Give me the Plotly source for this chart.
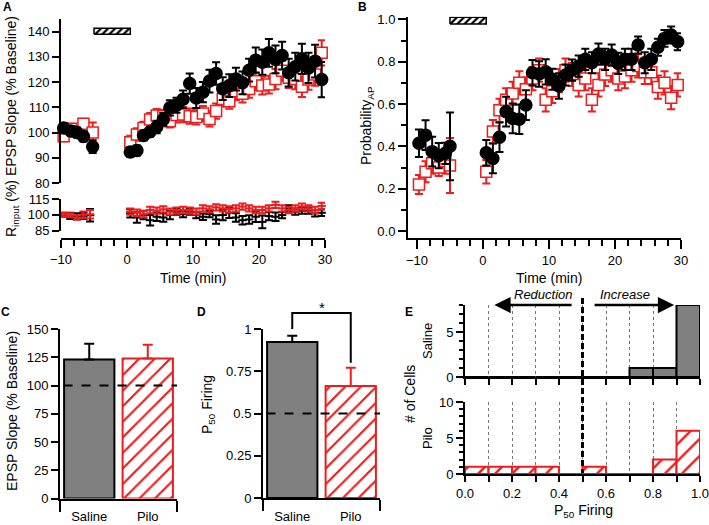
import plotly.graph_objects as go

W, H = 709, 525
FONT = "Arial, 'Liberation Sans', sans-serif"
BLACK = "black"
RED = "#ee1c1c"
GREY = "#808080"

# ---------------- data ----------------
# Panel A: EPSP slope (% baseline) and input resistance (%), time in min
a_base_time = [-9.6, -8.5, -7.6, -6.6, -5.2]
post_time = [0.5, 1.5, 2.5, 3.5, 4.5, 5.5, 6.5, 7.5, 8.5, 9.5,
             10.5, 11.5, 12.5, 13.5, 14.5, 15.5, 16.5, 17.5, 18.5, 19.5,
             20.5, 21.5, 22.5, 23.5, 24.5, 25.5, 26.5, 27.5, 28.5, 29.5]
epsp_sal_base = [101.8, 100.6, 100.0, 98.4, 94.4]
epsp_sal_base_err = [2, 2, 2, 2, 2.5]
epsp_pilo_base = [98.5, 101.5, 100.5, 103.5, 100.0]
epsp_pilo_base_err = [2, 2, 2, 2, 4]
epsp_sal_post = [92.3, 92.9, 98.8, 100.3, 102.2, 105.2, 109.8, 110.8, 113.2, 119.4,
                 113.7, 116.0, 120.4, 123.4, 117.4, 118.6, 121.2, 119.7, 124.7, 128.7,
                 127.9, 131.6, 129.0, 130.5, 123.7, 126.1, 129.2, 125.6, 128.3, 121.0]
epsp_sal_post_err = [2, 2, 2, 2, 2.5, 2.5, 3, 3, 3.5, 4, 4, 4, 4.5, 4.5, 4.5,
                     4.5, 4.5, 4.5, 4.5, 5, 5, 5.5, 5.5, 5.5, 5.5, 5.5, 6, 6, 6.5, 7]
epsp_pilo_post = [96.2, 99.2, 101.8, 105.2, 106.8, 106.5, 104.5, 107.0, 107.1, 106.5,
                  106.2, 107.5, 105.4, 108.5, 113.3, 112.4, 116.4, 115.4, 117.3, 120.3,
                  118.6, 119.0, 121.2, 124.5, 121.7, 121.2, 118.1, 121.0, 123.0, 131.6]
epsp_pilo_post_err = [2.5, 2.5, 2.5, 2.5, 2.5, 2.5, 2.5, 3, 3, 3, 3, 3, 3, 3, 3,
                      3, 3.5, 3.5, 3.5, 3.5, 3.5, 3.5, 4, 4, 4, 4, 4, 4, 4.5, 5]

rin_base_time = [-9.7, -8.6, -7.6, -6.6, -5.6]
rin_sal_base = [100.0, 99.0, 98.5, 99.0, 99.5]
rin_sal_base_err = [2, 3, 3, 3, 6]
rin_pilo_base = [100.0, 99.5, 97.5, 100.0, 100.5]
rin_pilo_base_err = [2, 2, 2, 3, 4]
rin_sal_post = [101.3, 97.4, 99.7, 94.8, 98.1, 97.4, 99.7, 102.9, 100.6, 102.9,
                99.7, 98.1, 100.6, 95.5, 99.7, 101.9, 97.4, 94.8, 95.5, 98.1,
                93.2, 98.7, 98.1, 99.7, 106.1, 102.9, 103.9, 103.9, 101.3, 101.9]
rin_sal_post_err = [4, 5, 4, 5, 4, 4, 4, 3, 3, 3, 3, 3, 3, 4, 5,
                    5, 4, 4, 4, 5, 6, 4, 4, 3, 3, 3, 3, 3, 3, 3]
rin_pilo_post = [102.9, 101.9, 100.6, 104.5, 103.9, 105.2, 102.9, 103.9, 104.5, 103.9,
                 102.9, 106.1, 105.2, 107.1, 106.1, 105.2, 106.1, 107.8, 106.1, 104.5,
                 104.5, 106.1, 109.4, 106.1, 104.5, 106.1, 107.8, 106.1, 104.5, 108.4]
rin_pilo_post_err = [3] * 30

# Panel B: probability of AP
b_base_time = [-9.7, -8.7, -7.7, -6.7, -5.7, -5.0]
pap_sal_base = [0.415, 0.453, 0.375, 0.356, 0.367, 0.40]
pap_sal_base_err = [0.065, 0.07, 0.07, 0.06, 0.05, 0.16]
pap_pilo_base = [0.22, 0.28, 0.32, 0.30, 0.33, 0.31]
pap_pilo_base_err = [0.045, 0.05, 0.05, 0.04, 0.06, 0.13]
pap_sal_post = [0.37, 0.343, 0.443, 0.564, 0.532, 0.528, 0.595, 0.748, 0.742, 0.752,
                0.717, 0.685, 0.737, 0.760, 0.779, 0.811, 0.795, 0.836, 0.811, 0.831,
                0.792, 0.811, 0.811, 0.879, 0.795, 0.811, 0.868, 0.91, 0.926, 0.894]
pap_sal_post_err = [0.06, 0.07, 0.07, 0.07, 0.07, 0.07, 0.07, 0.06, 0.06, 0.06,
                    0.05, 0.06, 0.05, 0.05, 0.05, 0.05, 0.05, 0.05, 0.05, 0.05,
                    0.05, 0.05, 0.05, 0.04, 0.05, 0.05, 0.04, 0.04, 0.04, 0.04]
pap_pilo_post = [0.28, 0.47, 0.57, 0.62, 0.65, 0.70, 0.67, 0.72, 0.76, 0.62,
                 0.66, 0.71, 0.76, 0.74, 0.69, 0.72, 0.62, 0.69, 0.74, 0.76,
                 0.72, 0.73, 0.76, 0.78, 0.75, 0.75, 0.68, 0.70, 0.63, 0.69]
pap_pilo_post_err = [0.055] * 30

drug_window = [-5.0, 0.5]          # hatched application bar (min)
drug_bar_a = [139.0, 141.3]        # vertical extent in panel A units
drug_bar_b = [0.978, 1.01]         # vertical extent in panel B units

# Panels C, D
groups = ["Saline", "Pilo"]
epsp_summary = [123.0, 124.0]
epsp_summary_err = [14.0, 12.0]
p50_summary = [0.923, 0.663]
p50_summary_err = [0.037, 0.107]

# Panel E: histogram of P50 firing
bin_centers = [0.05, 0.15, 0.25, 0.35, 0.45, 0.55, 0.65, 0.75, 0.85, 0.95]
hist_saline = [0, 0, 0, 0, 0, 0, 0, 1, 1, 8]
hist_pilo = [1, 1, 1, 1, 0, 1, 0, 0, 2, 6]

# ---------------- helpers ----------------
def xdom(a, b):
    return [a / W, b / W]

def ydom(top, bottom):
    return [1 - bottom / H, 1 - top / H]

def px(x):
    return x / W

def py(y):
    return 1 - y / H

fig = go.Figure()

def points(x, y, e, color, symbol, fill, xa, ya, size=11, lw=1.5):
    fig.add_trace(go.Scatter(
        x=x, y=y, mode="markers", xaxis=xa, yaxis=ya, showlegend=False,
        marker=dict(symbol=symbol, size=size, color=fill, line=dict(color=color, width=lw)),
        error_y=dict(type="data", array=e, color=color, thickness=2, width=4),
        cliponaxis=False))

# Panel A
points(a_base_time + post_time, epsp_pilo_base + epsp_pilo_post,
       epsp_pilo_base_err + epsp_pilo_post_err, RED, "square", "white", "x", "y", 11)
points(a_base_time + post_time, epsp_sal_base + epsp_sal_post,
       epsp_sal_base_err + epsp_sal_post_err, BLACK, "circle", BLACK, "x", "y", 12)
points(rin_base_time + post_time, rin_sal_base + rin_sal_post,
       rin_sal_base_err + rin_sal_post_err, BLACK, "line-ew", BLACK, "x2", "y2", 6, 2)
points(rin_base_time + post_time, rin_pilo_base + rin_pilo_post,
       rin_pilo_base_err + rin_pilo_post_err, RED, "line-ew", RED, "x2", "y2", 6, 2)

def drug_bar(xa, ya, yext):
    x0, x1 = drug_window
    y0, y1 = yext
    fig.add_trace(go.Scatter(
        x=[x0, x1, x1, x0, x0], y=[y0, y0, y1, y1, y0], xaxis=xa, yaxis=ya,
        mode="lines", fill="toself", line=dict(color=BLACK, width=1.5),
        fillcolor="white", fillpattern=dict(shape="/", fgcolor=BLACK, bgcolor="white", size=5, solidity=0.45),
        showlegend=False, hoverinfo="skip"))

drug_bar("x", "y", drug_bar_a)

# Panel B
points(b_base_time + post_time, pap_pilo_base + pap_pilo_post,
       pap_pilo_base_err + pap_pilo_post_err, RED, "square", "white", "x3", "y3", 11)
points(b_base_time + post_time, pap_sal_base + pap_sal_post,
       pap_sal_base_err + pap_sal_post_err, BLACK, "circle", BLACK, "x3", "y3", 12)
drug_bar("x3", "y3", drug_bar_b)

# Panels C & D
def summary_bars(vals, errs, xa, ya):
    fig.add_trace(go.Bar(
        x=[0], y=[vals[0]], width=0.86, xaxis=xa, yaxis=ya, showlegend=False,
        marker=dict(color=GREY, line=dict(color=BLACK, width=2)),
        error_y=dict(type="data", array=[errs[0]], arrayminus=[0], symmetric=False,
                     color=BLACK, thickness=2, width=5)))
    fig.add_trace(go.Bar(
        x=[1], y=[vals[1]], width=0.86, xaxis=xa, yaxis=ya, showlegend=False,
        marker=dict(color="white", line=dict(color=RED, width=2),
                    pattern=dict(shape="/", fgcolor=RED, bgcolor="white", size=11, solidity=0.2)),
        error_y=dict(type="data", array=[errs[1]], arrayminus=[0], symmetric=False,
                     color=RED, thickness=2, width=5)))

summary_bars(epsp_summary, epsp_summary_err, "x4", "y4")
summary_bars(p50_summary, p50_summary_err, "x5", "y5")

# Panel E
fig.add_trace(go.Bar(x=bin_centers, y=hist_saline, width=0.1, xaxis="x6", yaxis="y6",
                     showlegend=False, marker=dict(color=GREY, line=dict(color=BLACK, width=2))))
fig.add_trace(go.Bar(x=bin_centers, y=hist_pilo, width=0.1, xaxis="x7", yaxis="y7",
                     showlegend=False,
                     marker=dict(color="white", line=dict(color=RED, width=2),
                                 pattern=dict(shape="/", fgcolor=RED, bgcolor="white", size=12, solidity=0.2))))

# ---------------- axes ----------------
TF = dict(family=FONT, size=13, color=BLACK)

def ax(**kw):
    d = dict(showline=True, linecolor=BLACK, linewidth=2, ticks="outside", tickwidth=2,
             tickcolor=BLACK, ticklen=7, zeroline=False, showgrid=False, tickfont=TF,
             fixedrange=True, mirror=False, automargin=False, ticklabeloverflow="allow")
    d.update(kw)
    return d

def minor(dtick, tick0=0, ticklen=5, **kw):
    d = dict(tickmode="linear", tick0=tick0, dtick=dtick, ticks="outside", ticklen=ticklen,
             tickwidth=2, tickcolor=BLACK)
    d.update(kw)
    return d

A_X = (61, 325)
B_X = (408, 681)
E_X = (465, 700)

layout_axes = dict(
    xaxis=ax(domain=xdom(*A_X), range=[-10, 30], visible=False, anchor="y"),
    yaxis=ax(domain=ydom(19, 183), range=[80, 145], tickvals=[80, 90, 100, 110, 120, 130, 140], anchor="x"),
    xaxis2=ax(domain=xdom(*A_X), range=[-10, 30], anchor="free", position=py(239),
              tickvals=[-10, 0, 10, 20, 30], ticklen=8, minor=minor(2, ticklen=6)),
    yaxis2=ax(domain=ydom(199, 230.5), range=[85, 115], tickvals=[85, 100, 115], anchor="x2"),
    xaxis3=ax(domain=xdom(*B_X), range=[-11.36, 30], anchor="y3",
              tickvals=[-10, 0, 10, 20, 30], ticklen=9, minor=minor(2, ticklen=6)),
    yaxis3=ax(domain=ydom(16.8, 238), range=[-0.033, 1.012], anchor="x3",
              tickvals=[0, 0.2, 0.4, 0.6, 0.8, 1.0], tickformat=".1f", ticklen=8,
              minor=minor(0.1, ticklen=5)),
    xaxis4=ax(domain=xdom(60, 177), range=[-0.5, 1.5], anchor="y4",
              tickvals=[0, 1], ticktext=groups, tickcolor="rgba(0,0,0,0)", ticklen=5,
              minor=dict(tickmode="array", tickvals=[-0.5, 1.5], ticks="outside", ticklen=11,
                         tickwidth=2, tickcolor=BLACK)),
    yaxis4=ax(domain=ydom(329, 498.5), range=[0, 150], anchor="x4",
              tickvals=[0, 25, 50, 75, 100, 125, 150]),
    xaxis5=ax(domain=xdom(263, 380), range=[-0.5, 1.5], anchor="y5",
              tickvals=[0, 1], ticktext=groups, tickcolor="rgba(0,0,0,0)", ticklen=5,
              minor=dict(tickmode="array", tickvals=[-0.5, 1.5], ticks="outside", ticklen=11,
                         tickwidth=2, tickcolor=BLACK)),
    yaxis5=ax(domain=ydom(329, 498), range=[0, 1], anchor="x5",
              tickvals=[0, 0.25, 0.5, 0.75, 1], ticktext=["0", "0.25", "0.5", "0.75", "1"]),
    xaxis6=ax(domain=xdom(*E_X), range=[0, 1], anchor="y6", tickvals=[0, 0.2, 0.4, 0.6, 0.8, 1.0],
              showticklabels=False, ticklen=6, showgrid=True, griddash="dot", gridcolor="#777",
              gridwidth=1,
              minor=minor(0.1, ticklen=6, showgrid=True, griddash="dot", gridcolor="#777", gridwidth=1)),
    yaxis6=ax(domain=ydom(305, 377), range=[0, 8], anchor="x6", tickvals=[0, 5],
              minor=minor(1, ticklen=4)),
    xaxis7=ax(domain=xdom(*E_X), range=[0, 1], anchor="y7", tickvals=[0, 0.2, 0.4, 0.6, 0.8, 1.0],
              tickformat=".1f", ticklen=6, showgrid=True, griddash="dot", gridcolor="#777",
              gridwidth=1,
              minor=minor(0.1, ticklen=6, showgrid=True, griddash="dot", gridcolor="#777", gridwidth=1)),
    yaxis7=ax(domain=ydom(402, 474), range=[0, 10], anchor="x7", tickvals=[0, 5, 10],
              minor=minor(1, ticklen=4)),
)

# ---------------- annotations & shapes ----------------
def ann(x, y, text, size=14, angle=0, bold=False, **kw):
    t = f"<b>{text}</b>" if bold else text
    d = dict(x=px(x), y=py(y), xref="paper", yref="paper", text=t, showarrow=False,
             textangle=angle, font=dict(family=FONT, size=size, color=BLACK),
             xanchor="center", yanchor="middle")
    d.update(kw)
    return d

annotations = [
    ann(7, 7, "A", 12, bold=True), ann(362, 7, "B", 12, bold=True),
    ann(5, 312, "C", 12, bold=True), ann(201, 312, "D", 12, bold=True),
    ann(409, 312, "E", 12, bold=True),
    ann(12, 127, "R<sub>input</sub> (%) EPSP Slope (% Baseline)", 14, -90),
    ann(193, 278, "Time (min)", 14),
    ann(367, 126, "Probability<sub>AP</sub>", 14, -90),
    ann(549, 278, "Time (min)", 14),
    ann(12, 411, "EPSP Slope (% Baseline)", 14, -90),
    ann(208, 405, "P<sub>50</sub> Firing", 14, -90),
    ann(410, 394, "# of Cells", 14, -90),
    ann(427, 341, "Saline", 13, -90),
    ann(427, 438, "Pilo", 13, -90),
    ann(583, 511, "P<sub>50</sub> Firing", 14),
    ann(543, 294, "<i>Reduction</i>", 13),
    ann(625, 294, "<i>Increase</i>", 13),
]

# Panel D axis scale helpers for the significance bracket
D_X, D_Y = (263, 380), (498, 329)
def d_px(v):
    return D_X[0] + (v + 0.5) / 2.0 * (D_X[1] - D_X[0])
def d_py(v):
    return D_Y[0] + v * (D_Y[1] - D_Y[0])

annotations.append(ann(d_px(0.5), 307, "*", 15))

def e_px(v):
    return E_X[0] + v * (E_X[1] - E_X[0])

# arrows in panel E
for head, tail in [(0.125, 0.46), (0.89, 0.545)]:
    annotations.append(dict(x=head, y=8, xref="x6", yref="y6", ax=tail, ay=8, axref="x6", ayref="y6",
                            showarrow=True, arrowhead=2, arrowsize=1.3, arrowwidth=2.5,
                            arrowcolor=BLACK, text=""))

shapes = [
    dict(type="line", xref="x4 domain", yref="y4", x0=0.03, x1=1, y0=100, y1=100,
         line=dict(color=BLACK, width=2, dash="dash"), layer="above"),
    dict(type="line", xref="x5 domain", yref="y5", x0=0.03, x1=1, y0=0.5, y1=0.5,
         line=dict(color=BLACK, width=2, dash="dash"), layer="above"),
    dict(type="path", xref="paper", yref="paper",
         path=f"M {px(d_px(0))},{py(d_py(1.0))} L {px(d_px(0))},{py(d_py(1.095))} "
              f"L {px(d_px(1))},{py(d_py(1.095))} L {px(d_px(1))},{py(d_py(0.80))}",
         line=dict(color=BLACK, width=2)),
    dict(type="line", xref="paper", yref="paper", x0=px(e_px(0.5)), x1=px(e_px(0.5)),
         y0=py(298), y1=py(474), line=dict(color=BLACK, width=3, dash="6px,3px"), layer="above"),
    dict(type="line", xref="x7 domain", yref="y7", x0=0, x1=1, y0=0, y1=0,
         line=dict(color=RED, width=2), layer="above"),
]

fig.update_layout(
    template="none",
    width=W, height=H, margin=dict(l=0, r=0, t=0, b=0, autoexpand=False),
    paper_bgcolor="white", plot_bgcolor="white",
    font=dict(family=FONT, size=13, color=BLACK),
    showlegend=False, barmode="overlay",
    annotations=annotations, shapes=shapes,
    **layout_axes,
)

fig.write_html("out.html", config={"displayModeBar": False},
               post_script="document.body.style.margin='0px';document.body.style.overflow='hidden';")
